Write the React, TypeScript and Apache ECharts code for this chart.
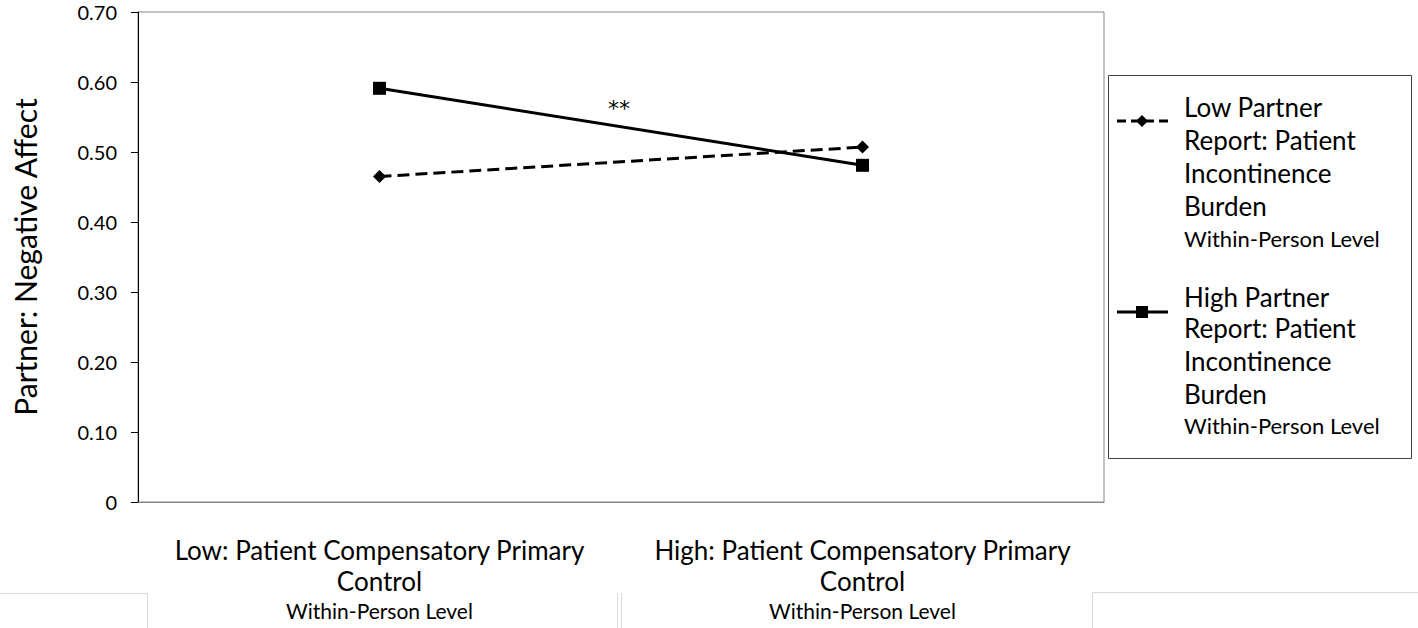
import React, { useEffect, useRef } from "react";
import * as echarts from "echarts";

const categories = [
  "Low: Patient Compensatory Primary|Control|Within-Person Level",
  "High: Patient Compensatory Primary|Control|Within-Person Level",
];
const lowPartner = [0.465, 0.507];
const highPartner = [0.591, 0.481];
const yTicks = [0, 0.1, 0.2, 0.3, 0.4, 0.5, 0.6, 0.7];
const legendLow = ["Low Partner", "Report: Patient", "Incontinence", "Burden", "Within-Person Level"];
const legendHigh = ["High Partner", "Report: Patient", "Incontinence", "Burden", "Within-Person Level"];
const annotation = "**";

const FONT = "Lato, 'Open Sans', sans-serif";

export default function App() {
  const ref = useRef<HTMLDivElement>(null);
  useEffect(() => {
    if (!ref.current) return;
    const chart = echarts.init(ref.current, undefined, { renderer: "svg" });

    const legendText = (lines: string[], ys: number[]) =>
      lines.map((t, i) => ({
        type: "text",
        x: 1184,
        y: ys[i],
        style: {
          text: t,
          fontFamily: FONT,
          fontSize: i === 4 ? 22 : 26,
          fill: "#000",
          align: "left",
          verticalAlign: "middle",
        },
      }));

    const option: any = {
      animation: false,
      textStyle: { fontFamily: FONT },
      grid: {
        left: 138,
        right: 314,
        top: 12,
        bottom: 126,
        show: true,
        borderColor: "#868686",
        borderWidth: 1,
      },
      xAxis: {
        type: "category",
        data: categories,
        boundaryGap: true,
        axisLine: { lineStyle: { color: "#868686", width: 1 } },
        axisTick: { length: 10, lineStyle: { color: "#868686" } },
        axisLabel: {
          margin: 32,
          interval: 0,
          formatter: (v: string) => {
            const p = v.split("|");
            return `{a|${p[0]}}\n{a|${p[1]}}\n{b|${p[2]}}`;
          },
          rich: {
            a: { fontFamily: FONT, fontSize: 26, lineHeight: 31, color: "#000" },
            b: { fontFamily: FONT, fontSize: 21, lineHeight: 29, color: "#000" },
          },
        },
      },
      yAxis: {
        type: "value",
        min: 0,
        max: 0.7,
        interval: 0.1,
        splitLine: { show: false },
        axisLine: { show: true, lineStyle: { color: "#000", width: 1 } },
        axisTick: { show: true, length: 7, lineStyle: { color: "#000" } },
        axisLabel: {
          margin: 21,
          fontFamily: FONT,
          fontSize: 20,
          color: "#000",
          formatter: (v: number) => {
            const t = yTicks.find((x) => Math.abs(x - v) < 1e-9);
            const val = t === undefined ? v : t;
            return val === 0 ? "0" : val.toFixed(2);
          },
        },
        name: "Partner: Negative Affect",
        nameLocation: "middle",
        nameGap: 98,
        nameRotate: 90,
        nameTextStyle: { fontFamily: FONT, fontSize: 30, color: "#000" },
      },
      series: [
        {
          name: "Low",
          type: "line",
          data: lowPartner,
          symbol: "diamond",
          symbolSize: 13,
          itemStyle: { color: "#000" },
          lineStyle: { color: "#000", width: 3, type: [12, 6] },
        },
        {
          name: "High",
          type: "line",
          data: highPartner,
          symbol: "rect",
          symbolSize: 13,
          itemStyle: { color: "#000" },
          lineStyle: { color: "#000", width: 3, type: "solid" },
        },
      ],
      graphic: [
        {
          type: "text",
          x: 619,
          y: 108,
          style: {
            text: annotation,
            fontFamily: "'DejaVu Sans', sans-serif",
            fontSize: 22,
            fill: "#000",
            align: "center",
            verticalAlign: "middle",
          },
        },
        {
          type: "rect",
          shape: { x: 1108.5, y: 75.5, width: 303, height: 383 },
          style: { fill: "#fff", stroke: "#404040", lineWidth: 1 },
        },
        {
          type: "line",
          shape: { x1: 1117, y1: 121, x2: 1168, y2: 121 },
          style: { stroke: "#000", lineWidth: 3, lineDash: [9, 5] },
        },
        {
          type: "polygon",
          shape: { points: [[1142, 115], [1148, 121], [1142, 127], [1136, 121]] },
          style: { fill: "#000" },
        },
        {
          type: "line",
          shape: { x1: 1117, y1: 312, x2: 1168, y2: 312 },
          style: { stroke: "#000", lineWidth: 3 },
        },
        {
          type: "rect",
          shape: { x: 1136, y: 306, width: 12, height: 12 },
          style: { fill: "#000" },
        },
        ...legendText(legendLow, [107, 140, 173, 206, 238]),
        ...legendText(legendHigh, [297, 328, 361, 394, 425]),
        { type: "line", shape: { x1: 0, y1: 593.5, x2: 147.5, y2: 593.5 }, style: { stroke: "#d9d9d9", lineWidth: 1 } },
        { type: "line", shape: { x1: 147.5, y1: 593, x2: 147.5, y2: 628 }, style: { stroke: "#d9d9d9", lineWidth: 1 } },
        { type: "line", shape: { x1: 617.5, y1: 593, x2: 617.5, y2: 628 }, style: { stroke: "#d9d9d9", lineWidth: 1 } },
        { type: "line", shape: { x1: 621.5, y1: 593, x2: 621.5, y2: 628 }, style: { stroke: "#d9d9d9", lineWidth: 1 } },
        { type: "line", shape: { x1: 1092, y1: 592.5, x2: 1418, y2: 592.5 }, style: { stroke: "#d9d9d9", lineWidth: 1 } },
        { type: "line", shape: { x1: 1092.5, y1: 592, x2: 1092.5, y2: 628 }, style: { stroke: "#d9d9d9", lineWidth: 1 } },
      ],
    };
    chart.setOption(option);
    return () => chart.dispose();
  }, []);
  return (
    <div
      ref={ref}
      style={{ width: 1418, height: 628, position: "absolute", left: 0, top: 0, background: "#fff" }}
    />
  );
}
